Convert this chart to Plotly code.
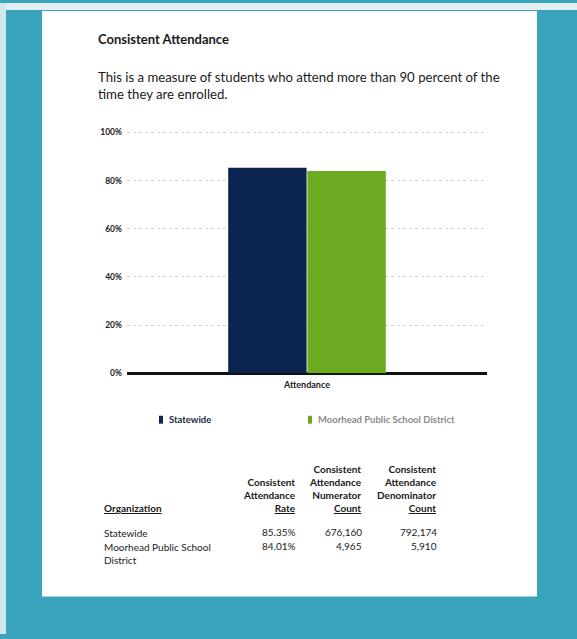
import plotly.graph_objects as go

W, H = 577, 639

# ---------------- data ----------------
organizations = ["Statewide", "Moorhead Public School District"]
org_table_labels = ["Statewide", "Moorhead Public School<br>District"]
rates = [85.35, 84.01]
numerators = ["676,160", "4,965"]
denominators = ["792,174", "5,910"]
category = ["Attendance"]
y_ticks = [0, 20, 40, 60, 80, 100]

colors = ["#0b2550", "#6cab1f"]
TEAL = "#3ba4bd"
FONT = "Lato"


def px(x):
    return x / W


def py(y):
    return 1 - y / H


fig = go.Figure()
for org, r, c in zip(organizations, rates, colors):
    fig.add_trace(go.Bar(
        x=category, y=[r], name=org,
        marker=dict(color=c, line=dict(width=0)),
        showlegend=False,
    ))

shapes = [
    # white page
    dict(type="rect", xref="paper", yref="paper", x0=px(42), x1=px(537), y0=py(601), y1=py(8),
         fillcolor="white", line=dict(width=0), layer="below"),
    # light top strip
    dict(type="rect", xref="paper", yref="paper", x0=0, x1=1, y0=py(7), y1=1,
         fillcolor="#e4eff2", line=dict(width=0), layer="below"),
    # light left strip
    dict(type="rect", xref="paper", yref="paper", x0=0, x1=px(6), y0=py(639), y1=1,
         fillcolor="#cfe6ec", line=dict(width=0), layer="below"),
]

annotations = []
# title and description
annotations.append(dict(text="<b>Consistent Attendance</b>", x=px(96), y=py(36), xref="paper", yref="paper",
                        xanchor="left", yanchor="middle", showarrow=False,
                        font=dict(family=FONT, size=13, color="#1a1a1a")))
annotations.append(dict(text="This is a measure of students who attend more than 90 percent of the<br>time they are enrolled.",
                        x=px(96), y=py(84), xref="paper", yref="paper", xanchor="left", yanchor="middle",
                        align="left", showarrow=False,
                        font=dict(family=FONT, size=13.2, color="#1a1a1a")))

# legend (custom)
leg_x = [161, 310]
leg_font_colors = ["#1a2a40", "#8a8a8a"]
for org, c, lx, fc in zip(organizations, colors, leg_x, leg_font_colors):
    shapes.append(dict(type="rect", xref="paper", yref="paper", x0=px(lx - 2), x1=px(lx + 2),
                       y0=py(426), y1=py(418), fillcolor=c, line=dict(width=0)))
    annotations.append(dict(text="<b>" + org + "</b>", x=px(lx + 6), y=py(422), xref="paper", yref="paper",
                            xanchor="left", yanchor="middle", showarrow=False,
                            font=dict(family=FONT, size=9.5, color=fc)))

# table
tfont = dict(family=FONT, size=10, color="#1a1a1a")
col_right = [298, 364, 439]
headers = [
    "<b>Consistent<br>Attendance<br><u>Rate</u></b>",
    "<b>Consistent<br>Attendance<br>Numerator<br><u>Count</u></b>",
    "<b>Consistent<br>Attendance<br>Denominator<br><u>Count</u></b>",
]
for h, xr in zip(headers, col_right):
    annotations.append(dict(text=h, x=px(xr), y=py(519), xref="paper", yref="paper",
                            xanchor="right", yanchor="bottom", align="right", showarrow=False,
                            font=tfont))
annotations.append(dict(text="<b><u>Organization</u></b>", x=px(102), y=py(519), xref="paper", yref="paper",
                        xanchor="left", yanchor="bottom", align="left", showarrow=False, font=tfont))

row_y = [536, 550]
for lab, r, n, d, ry in zip(org_table_labels, rates, numerators, denominators, row_y):
    annotations.append(dict(text=lab, x=px(102), y=py(ry - 7), xref="paper", yref="paper",
                            xanchor="left", yanchor="top", align="left", showarrow=False, font=tfont))
    for v, xr in zip([f"{r:.2f}%", n, d], col_right):
        annotations.append(dict(text=v, x=px(xr), y=py(ry), xref="paper", yref="paper",
                                xanchor="right", yanchor="middle", align="right", showarrow=False,
                                font=tfont))

y_top = 101.0
fig.update_layout(
    width=W, height=H, autosize=False,
    margin=dict(l=0, r=0, t=0, b=0),
    paper_bgcolor=TEAL,
    plot_bgcolor="rgba(0,0,0,0)",
    barmode="group",
    bargap=0.56,
    bargroupgap=0.01,
    shapes=shapes,
    annotations=annotations,
    xaxis=dict(domain=[px(127), px(487)], showgrid=False, showline=False, zeroline=False,
               ticks="", tickfont=dict(family=FONT, size=9, color="#222222"),
               tickprefix="<b>", ticksuffix="</b>", ticklabelstandoff=5, fixedrange=True),
    yaxis=dict(domain=[py(375), py(375 - 244 * y_top / 100)], range=[0, y_top], tickvals=y_ticks,
               ticktext=[f"<b>{v}%</b>" for v in y_ticks],
               tickfont=dict(family=FONT, size=8.5, color="#222222"),
               showgrid=True, gridcolor="#d2d2d2", gridwidth=1, griddash="dot",
               zeroline=True, zerolinecolor="#111111", zerolinewidth=3,
               showline=False, ticks="", ticklabelstandoff=4, fixedrange=True),
)

fig.write_html("out.html", config={"displayModeBar": False},
               post_script="document.body.style.margin='0';document.body.style.overflow='hidden';")
